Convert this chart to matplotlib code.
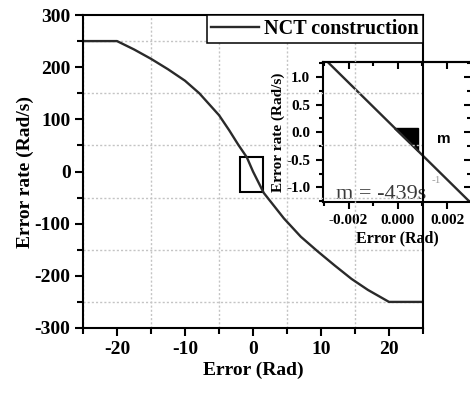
import matplotlib
matplotlib.use('Agg')
import matplotlib.pyplot as plt
import numpy as np
from matplotlib.patches import Rectangle
from matplotlib.ticker import MultipleLocator, FormatStrFormatter

plt.rc('font', family='serif', serif=['Liberation Serif'], weight='bold', size=14)
plt.rc('axes', linewidth=1.5, labelweight='bold', unicode_minus=False)

# NCT construction curve
error = [-25, -20, -17.5, -15, -12.5, -10, -7.9, -5, -3.5, -2.2, -0.9, 0,
         1.58, 4.55, 7.03, 9.5, 12.0, 14.5, 16.9, 20, 25]
error_rate = [250, 250, 234, 216, 196, 174, 150, 108, 79, 52, 27, 0,
              -41, -90, -125, -153, -180, -206, -227, -250, -250]

# zoomed region marked on the main plot: x0, x1, y0, y1
zoom_box = [-1.9, 1.5, -40, 27]

# linear part near the origin (inset)
slope = -439.0
offset = 0.02
inset_err = np.array([-0.0032, 0.0032])
tri_x1 = 0.00082
tri_y0 = 0.08

fig = plt.figure(figsize=(4.7, 3.94), dpi=100)
fig.patch.set_facecolor('white')

ax = fig.add_axes([83/470, 1-328/394, 340/470, 313/394])
ins = fig.add_axes([322.7/470, 1-201.7/394, 148.5/470, 139.7/394])
ax.set_zorder(2)
ax.set_facecolor('none')
ins.set_zorder(1)

# ---- main plot ----
ax.plot(error, error_rate, color='#2a2a2a', lw=1.7, label='NCT construction')
ax.add_patch(Rectangle((zoom_box[0], zoom_box[2]), zoom_box[1]-zoom_box[0],
                       zoom_box[3]-zoom_box[2], fill=False, ec='black', lw=1.5))
ax.set_xlim(-25, 25)
ax.set_ylim(-300, 300)
ax.xaxis.set_major_locator(MultipleLocator(10))
ax.xaxis.set_minor_locator(MultipleLocator(5))
ax.yaxis.set_major_locator(MultipleLocator(100))
ax.yaxis.set_minor_locator(MultipleLocator(50))
ax.tick_params(which='major', direction='out', length=6, width=1.5, pad=3)
ax.tick_params(which='minor', direction='out', length=4, width=1.5)
ax.grid(which='minor', color='#c4c4c4', ls=(0, (1.5, 1.5)), lw=1.0)
ax.set_xlabel('Error (Rad)', labelpad=3)
ax.set_ylabel('Error rate (Rad/s)', labelpad=0)
leg = ax.legend(loc='upper right', borderaxespad=0, fancybox=False,
                edgecolor='black', framealpha=1, handlelength=2.4,
                handletextpad=0.25, borderpad=0.2,
                prop={'weight': 'bold', 'size': 14.5})
leg.get_frame().set_linewidth(1.1)

# ---- inset ----
ins.plot(inset_err, slope*inset_err + offset, color='#2a2a2a', lw=1.7)
tri_x0 = (tri_y0 - offset) / slope
ins.fill([tri_x0, tri_x1, tri_x1], [tri_y0, tri_y0, slope*tri_x1 + offset],
         color='black')
ins.set_xlim(-0.00305, 0.00298)
ins.set_ylim(-1.26, 1.27)
ins.xaxis.set_major_locator(MultipleLocator(0.002))
ins.xaxis.set_minor_locator(MultipleLocator(0.001))
ins.yaxis.set_major_locator(MultipleLocator(0.5))
ins.yaxis.set_minor_locator(MultipleLocator(0.25))
ins.xaxis.set_major_formatter(FormatStrFormatter('%.3f'))
ins.yaxis.set_major_formatter(FormatStrFormatter('%.1f'))
ins.tick_params(which='major', direction='out', length=5, width=1.5,
                labelsize=11, pad=4)
ins.tick_params(which='minor', direction='out', length=3, width=1.5)

# mirrored ticks on top and right, pointing inward
top = ins.secondary_xaxis('top')
top.xaxis.set_major_locator(MultipleLocator(0.002))
top.xaxis.set_minor_locator(MultipleLocator(0.001))
top.tick_params(which='both', direction='in', labeltop=False, width=1.5)
right = ins.secondary_yaxis('right')
right.yaxis.set_major_locator(MultipleLocator(0.5))
right.yaxis.set_minor_locator(MultipleLocator(0.25))
right.tick_params(which='both', direction='in', labelright=False, width=1.5)
for sec in (top, right):
    sec.tick_params(which='major', length=5)
    sec.tick_params(which='minor', length=3)

ins.set_xlabel('Error (Rad)', fontsize=11.5, labelpad=2)
ins.set_ylabel('Error rate (Rad/s)', fontsize=11, labelpad=1)
ins.text(0.00186, -0.12, 'm', family='Liberation Sans', weight='bold',
         fontsize=11, ha='center', va='center')
ins.text(-0.00249, -1.21, 'm = -439s', fontsize=16, weight='normal',
         color='#3a3a3a', ha='left', va='baseline')
ins.text(0.00137, -0.87, '-1', fontsize=8, weight='normal',
         color='#9a9a9a', ha='left', va='center')

fig.savefig('out.png', dpi=100)
